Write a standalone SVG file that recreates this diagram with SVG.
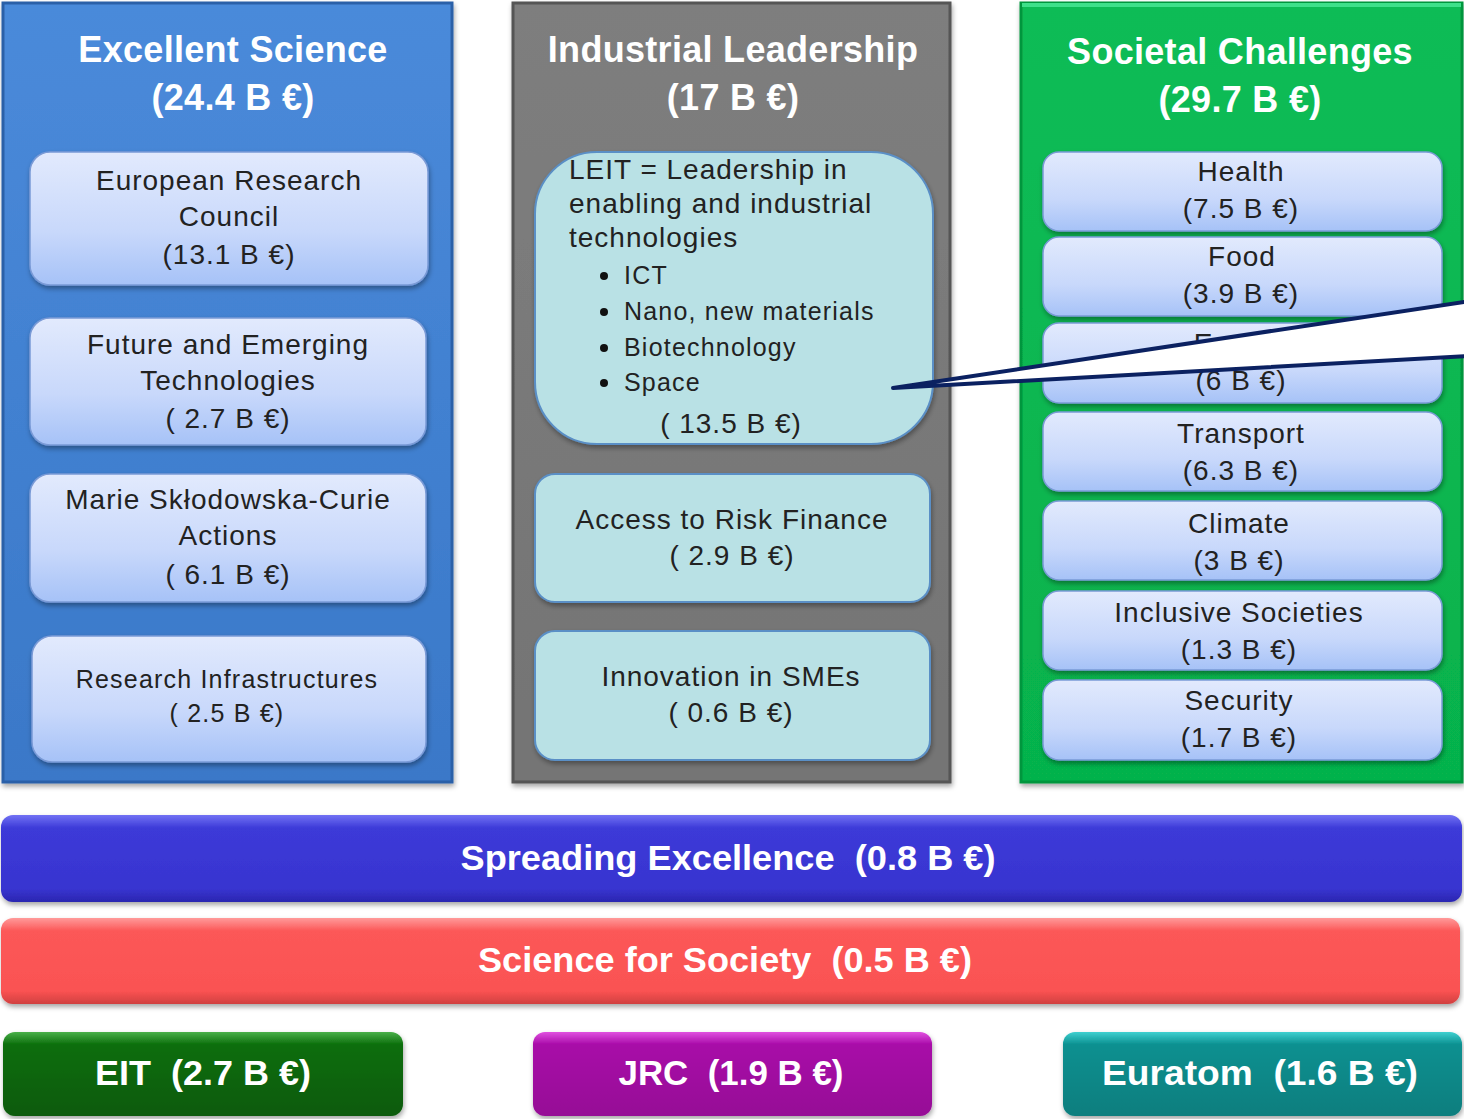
<svg xmlns="http://www.w3.org/2000/svg" width="1464" height="1119" viewBox="0 0 1464 1119">
<defs>
<linearGradient id="gBlueCol" x1="0" y1="0" x2="0" y2="1"><stop offset="0" stop-color="#4a8ada"/><stop offset="1" stop-color="#3a78c8"/></linearGradient>
<linearGradient id="gGrayCol" x1="0" y1="0" x2="0" y2="1"><stop offset="0" stop-color="#7e7e7e"/><stop offset="1" stop-color="#747474"/></linearGradient>
<linearGradient id="gGreenCol" x1="0" y1="0" x2="0" y2="1"><stop offset="0" stop-color="#0cbc56"/><stop offset="1" stop-color="#06b24c"/></linearGradient>
<linearGradient id="gInner" x1="0" y1="0" x2="0" y2="1"><stop offset="0" stop-color="#e2eafd"/><stop offset="0.6" stop-color="#c8d8fb"/><stop offset="1" stop-color="#a6c2f7"/></linearGradient>
<linearGradient id="gBlueBar" x1="0" y1="0" x2="0" y2="1"><stop offset="0" stop-color="#7272f4"/><stop offset="0.15" stop-color="#3c3ad8"/><stop offset="0.85" stop-color="#3834d0"/><stop offset="1" stop-color="#2a26b0"/></linearGradient>
<linearGradient id="gRedBar" x1="0" y1="0" x2="0" y2="1"><stop offset="0" stop-color="#ff9a9a"/><stop offset="0.15" stop-color="#fc5858"/><stop offset="0.85" stop-color="#fa5252"/><stop offset="1" stop-color="#d04040"/></linearGradient>
<linearGradient id="gEIT" x1="0" y1="0" x2="0" y2="1"><stop offset="0" stop-color="#4ab04a"/><stop offset="0.15" stop-color="#0b6e0b"/><stop offset="1" stop-color="#075a07"/></linearGradient>
<linearGradient id="gJRC" x1="0" y1="0" x2="0" y2="1"><stop offset="0" stop-color="#e050e0"/><stop offset="0.15" stop-color="#a80aa8"/><stop offset="1" stop-color="#960896"/></linearGradient>
<linearGradient id="gEur" x1="0" y1="0" x2="0" y2="1"><stop offset="0" stop-color="#40d0d0"/><stop offset="0.15" stop-color="#0a9090"/><stop offset="1" stop-color="#087e7e"/></linearGradient>
<filter id="sh" x="-5%" y="-10%" width="110%" height="130%"><feDropShadow dx="1" dy="3" stdDeviation="2.5" flood-color="#000" flood-opacity="0.35"/></filter>
</defs>
<style>
.hdr{font-family:"Liberation Sans",Arial,sans-serif;font-weight:bold;font-size:36px;letter-spacing:0.3px;fill:#fff;text-anchor:middle}
.t{font-family:"Liberation Sans",Arial,sans-serif;font-size:28px;letter-spacing:1px;fill:#222;text-anchor:middle}
.ts{font-family:"Liberation Sans",Arial,sans-serif;font-size:25px;letter-spacing:1.2px;fill:#222;text-anchor:middle}
.tl{font-family:"Liberation Sans",Arial,sans-serif;font-size:28px;letter-spacing:1px;fill:#222}
.tb{font-family:"Liberation Sans",Arial,sans-serif;font-size:25px;letter-spacing:1.2px;fill:#222}
.bar{font-family:"Liberation Sans",Arial,sans-serif;font-weight:bold;font-size:35px;fill:#fff;text-anchor:middle}
.inner{fill:url(#gInner);stroke:#7a9ad6;stroke-width:1.5;filter:url(#sh)}
.cyan{fill:#b9e1e5;stroke:#5a8fc6;stroke-width:2;filter:url(#sh)}
</style>
<rect width="1464" height="1119" fill="#fff"/>

<g id="col-excellent-science">
<rect x="3" y="3" width="449" height="779" fill="url(#gBlueCol)" stroke="#2c60a8" stroke-width="3" filter="url(#sh)"/>
<text class="hdr" x="233" y="62">Excellent Science</text>
<text class="hdr" x="233" y="110">(24.4 B €)</text>
</g>
<g id="col-industrial-leadership">
<rect x="513" y="3" width="437" height="779" fill="url(#gGrayCol)" stroke="#555" stroke-width="3" filter="url(#sh)"/>
<text class="hdr" x="733" y="62">Industrial Leadership</text>
<text class="hdr" x="733" y="110">(17 B €)</text>
</g>
<g id="col-societal-challenges">
<rect x="1021" y="3" width="441" height="779" fill="url(#gGreenCol)" stroke="#05963e" stroke-width="3" filter="url(#sh)"/>
<rect x="1022" y="3" width="439" height="4" fill="#3ee08a"/>
<text class="hdr" x="1240" y="64">Societal Challenges</text>
<text class="hdr" x="1240" y="112">(29.7 B €)</text>
</g>

<g id="erc"><rect class="inner" x="30" y="152" width="398" height="133" rx="20"/>
<text class="t" x="229" y="190">European Research</text><text class="t" x="229" y="226">Council</text><text class="t" x="229" y="264">(13.1 B €)</text></g>
<g id="fet"><rect class="inner" x="30" y="318" width="396" height="127" rx="20"/>
<text class="t" x="228" y="354">Future and Emerging</text><text class="t" x="228" y="390">Technologies</text><text class="t" x="228" y="428">( 2.7 B €)</text></g>
<g id="msca"><rect class="inner" x="30" y="474" width="396" height="128" rx="20"/>
<text class="t" x="228" y="509">Marie Skłodowska-Curie</text><text class="t" x="228" y="545">Actions</text><text class="t" x="228" y="584">( 6.1 B €)</text></g>
<g id="ri"><rect class="inner" x="32" y="636" width="394" height="126" rx="20"/>
<text class="ts" x="227" y="688">Research Infrastructures</text><text class="ts" x="227" y="722">( 2.5 B €)</text></g>

<g id="leit"><rect class="cyan" x="535" y="152" width="398" height="292" rx="62"/>
<text class="tl" x="569" y="179">LEIT = Leadership in</text>
<text class="tl" x="569" y="213">enabling and industrial</text>
<text class="tl" x="569" y="247">technologies</text>
<circle cx="604" cy="276" r="4" fill="#111"/><text class="tb" x="624" y="284">ICT</text>
<circle cx="604" cy="312" r="4" fill="#111"/><text class="tb" x="624" y="320">Nano, new materials</text>
<circle cx="604" cy="348" r="4" fill="#111"/><text class="tb" x="624" y="356">Biotechnology</text>
<circle cx="604" cy="383" r="4" fill="#111"/><text class="tb" x="624" y="391">Space</text>
<text class="t" x="731" y="433">( 13.5 B €)</text></g>
<g id="risk-finance"><rect class="cyan" x="535" y="474" width="395" height="128" rx="20"/>
<text class="t" x="732" y="529">Access to Risk Finance</text><text class="t" x="732" y="565">( 2.9 B €)</text></g>
<g id="smes"><rect class="cyan" x="535" y="631" width="395" height="129" rx="20"/>
<text class="t" x="731" y="686">Innovation in SMEs</text><text class="t" x="731" y="722">( 0.6 B €)</text></g>

<g id="health"><rect class="inner" x="1043" y="152" width="399" height="79" rx="16"/>
<text class="t" x="1241" y="181">Health</text><text class="t" x="1241" y="218">(7.5 B €)</text></g>
<g id="food"><rect class="inner" x="1043" y="237" width="399" height="79" rx="16"/>
<text class="t" x="1242" y="266">Food</text><text class="t" x="1241" y="303">(3.9 B €)</text></g>
<g id="energy"><rect class="inner" x="1043" y="323" width="399" height="80" rx="16"/>
<text class="t" x="1241" y="353">Energy</text><text class="t" x="1241" y="390">(6 B €)</text></g>
<g id="transport"><rect class="inner" x="1043" y="412" width="399" height="79" rx="16"/>
<text class="t" x="1241" y="443">Transport</text><text class="t" x="1241" y="480">(6.3 B €)</text></g>
<g id="climate"><rect class="inner" x="1043" y="501" width="399" height="79" rx="16"/>
<text class="t" x="1239" y="533">Climate</text><text class="t" x="1239" y="570">(3 B €)</text></g>
<g id="inclusive"><rect class="inner" x="1043" y="591" width="399" height="79" rx="16"/>
<text class="t" x="1239" y="622">Inclusive Societies</text><text class="t" x="1239" y="659">(1.3 B €)</text></g>
<g id="security"><rect class="inner" x="1043" y="680" width="399" height="80" rx="16"/>
<text class="t" x="1239" y="710">Security</text><text class="t" x="1239" y="747">(1.7 B €)</text></g>

<g id="connectors">
<polygon points="893,388 1470,301 1470,356" fill="#fff" stroke="#0b2161" stroke-width="4" stroke-linejoin="round"/>
</g>

<g id="spreading-excellence"><rect x="1" y="815" width="1461" height="87" rx="12" fill="url(#gBlueBar)" filter="url(#sh)"/>
<text class="bar" x="728" y="870" textLength="535" lengthAdjust="spacingAndGlyphs" xml:space="preserve">Spreading Excellence  (0.8 B €)</text></g>
<g id="science-for-society"><rect x="1" y="918" width="1459" height="86" rx="12" fill="url(#gRedBar)" filter="url(#sh)"/>
<text class="bar" x="725" y="972" textLength="494" lengthAdjust="spacingAndGlyphs" xml:space="preserve">Science for Society  (0.5 B €)</text></g>
<g id="eit"><rect x="3" y="1032" width="400" height="84" rx="12" fill="url(#gEIT)" filter="url(#sh)"/>
<text class="bar" x="203" y="1085" textLength="216" lengthAdjust="spacingAndGlyphs" xml:space="preserve">EIT  (2.7 B €)</text></g>
<g id="jrc"><rect x="533" y="1032" width="399" height="84" rx="12" fill="url(#gJRC)" filter="url(#sh)"/>
<text class="bar" x="731" y="1085" textLength="225" lengthAdjust="spacingAndGlyphs" xml:space="preserve">JRC  (1.9 B €)</text></g>
<g id="euratom"><rect x="1063" y="1032" width="399" height="84" rx="12" fill="url(#gEur)" filter="url(#sh)"/>
<text class="bar" x="1260" y="1085" textLength="316" lengthAdjust="spacingAndGlyphs" xml:space="preserve">Euratom  (1.6 B €)</text></g>
</svg>
